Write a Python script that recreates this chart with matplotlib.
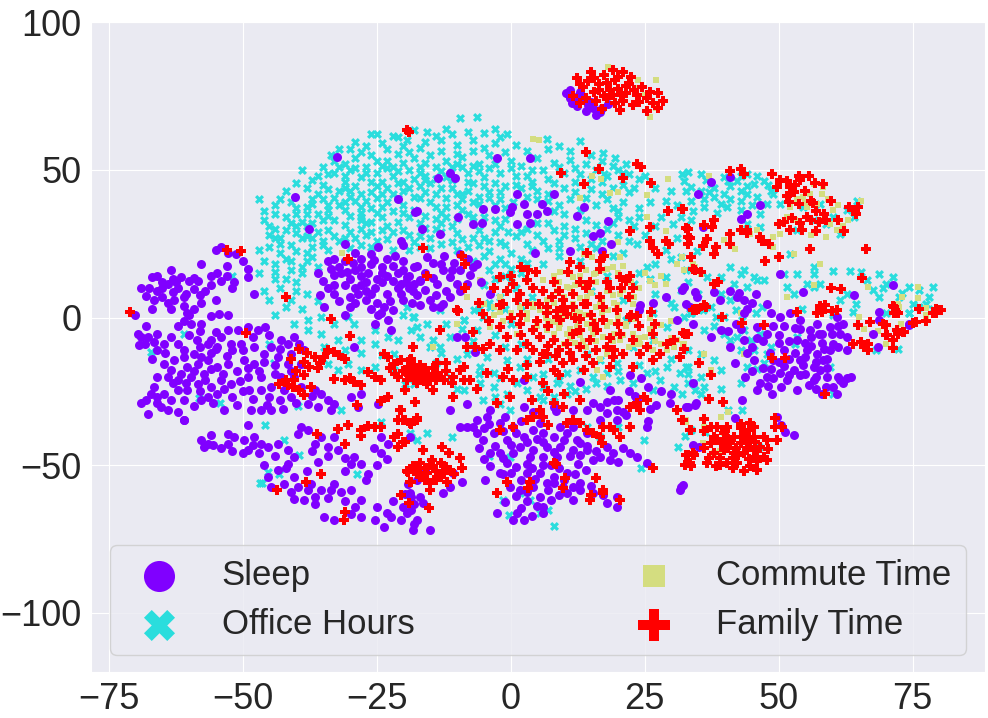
import matplotlib
matplotlib.use("Agg")
import matplotlib.pyplot as plt
import seaborn as sns
import numpy as np

sns.set_style("darkgrid")
plt.rcParams["font.family"] = ["Liberation Sans", "DejaVu Sans"]

labels = ["Sleep", "Office Hours", "Commute Time", "Family Time"]

# t-SNE coordinates (approximate)
sleep_pts = [
    # small top island
    (10.4, 76), (11, 74.5), (12, 73), (12.3, 71.5), (10.8, 75.5), (13.6, 74), (14.5, 72), (15.4, 71),
    (16.7, 69.5), (18.2, 72.3), (14, 70), (11.5, 72.5), (11, 77), (12.5, 75), (13, 76.5), (15, 73),
    (17, 71), (16, 68.5),
    # strays inside the office cloud
    (-32.4, 54.5), (-40.2, 41), (-37.6, 30), (-31, 25), (-24.8, 24), (-21, 40), (-17.5, 36), (-20.5, 26),
    (-20, 24.5), (-2.6, 54), (3.6, 54), (-13.5, 47.4), (-10.4, 47.4), (-11.4, 49), (8, 41.8), (13.6, 37.3),
    (2.4, 38.4), (5.8, 38.4), (6.7, 36), (5, 35), (3, 35), (3.6, 32), (1.1, 31.6), (0.2, 37.3), (-5.1, 36.7),
    (-3, 36.7), (-5.4, 32), (-7, 31.6), (-9.8, 33.9), (-13.2, 28.3), (-16.6, 30), (-17.8, 35.6), (12.3, 34.5),
    (18.2, 32.8), (15.4, 27.7), (16.7, 28.5), (4.5, 22), (11, 22.6), (17, 22.6), (18.8, 25), (1.1, 41.8),
    (-0.1, 35.6),
    # blob around (-27, 12)
    (-34, 19), (-35, 12.5), (-33, 8), (-29, 10), (-28, 20), (-24, 17), (-22, 12.5), (-19, 10), (-25.4, 10),
    (-18, 17), (-23.6, 3.5), (-27, 6), (-31.6, 15), (-30, 3.5), (-29, 16), (-26.7, 15), (-23, 20), (-20, 19),
    (-17, 12.5), (-20, 6), (-34.8, 3.5), (-24.8, 1), (-32, 17), (-27, 12), (-25, 13), (-21, 15), (-26, 18),
    (-23, 8), (-30, 7), (-28, 14), (-22, 17.5), (-33, 11), (-19, 14), (-25, 5), (-21, 10), (-31, 11),
    (-27, 9), (-24, 12), (-29.5, 18.5), (-22.5, 5.5), (-17.5, 7.5), (-36, 15), (-33, 14.5), (-30, 13),
    (-28.5, 8), (-26, 3), (-24, 15), (-21.5, 21), (-19.5, 12), (-18.5, 5), (-29, 22), (-26, 21.5), (-33, 20),
    (-35.5, 7.5), (-31, 1),
    # blob around (-13, 12)
    (-15.7, 20.4), (-14.5, 18.5), (-12.6, 16), (-11.3, 13.6), (-10, 11.4), (-13.8, 11.4), (-16.9, 12.6),
    (-19.4, 13.6), (-20.5, 11.5), (-11.3, 6.9), (-15, 5.8), (-13.2, 3.5), (-9.5, 16), (-8.2, 11.4),
    (-6.3, 18), (-3.9, 8), (-9.5, 21.5), (-18.2, 9.1), (-20, 16), (-12, 9), (-16, 15), (-14, 7.5),
    (-10.5, 18.5), (-17.5, 17.5), (-12.5, 21), (-7.5, 14.5), (-14.4, 3.6), (-16.9, 4.2), (-12.6, 4.7),
    (-16, 9.5), (-14.5, 13.5), (-11, 16), (-13, 18), (-9.5, 9), (-7, 17), (-5.5, 12), (-8, 20),
    # far left upper group
    (-54, 24), (-55, 23), (-52.8, 22), (-51.2, 21.5), (-57.8, 18), (-49, 16.5), (-49, 13.6), (-51.6, 12),
    (-52, 10), (-47.8, 8), (-67, 13.6), (-66, 14), (-63.4, 16), (-61.5, 13.6), (-64, 11.4), (-60, 12.5),
    (-58.4, 12.5), (-55.9, 14), (-54.7, 15), (-57, 9), (-59, 9.7), (-65, 7), (-62.8, 6), (-66.5, 6),
    (-63.4, 3), (-68, 7.4), (-57.8, 5), (-56, 0.7), (-60, 1), (-70, 1), (-63, 8.6), (-62, 10), (-65, 10),
    (-65, 12), (-62.5, 12), (-60.5, 8), (-67.5, 10), (-64, 5), (-58, 7.5), (-61, 4), (-54, 12.5), (-53, 17.5),
    (-69, 10), (-66, 9), (-63, 13), (-61, 7), (-59, 13.5), (-56, 11), (-55, 6), (-59, 3), (-53, 14),
    (-50, 19), (-67, 3),
    # left main mass
    (-69.6, -5.4), (-67.7, -6.5), (-66.5, -8.2), (-64.6, -8.8), (-68.3, -8.8), (-65.9, -5.4), (-63.4, -6.5),
    (-69.3, -9.4), (-64.6, -15.6), (-62.8, -14.5), (-60.3, -16.7), (-58.4, -15.6), (-56.5, -14.5),
    (-54.7, -16.7), (-52.8, -15.6), (-57.2, -19), (-59.7, -20.1), (-61.5, -19), (-58.4, -22.4),
    (-55.9, -23.5), (-54, -21.2), (-52.2, -22.4), (-54.7, -25.7), (-56.5, -26.9), (-60.3, -24.6),
    (-63.4, -17.8), (-59, -12.2), (-60.9, -13.5), (-57.8, -13.3), (-53.7, -19), (-67.1, -25.7),
    (-65.9, -26.9), (-64.6, -25.7), (-63.4, -28), (-65.2, -30.3), (-67.7, -32.5), (-62.1, -24.6),
    (-64, -31.4), (-60.9, -34.8), (-59.6, -2), (-57.8, -2), (-55.9, -7.7), (-54, -6.5), (-52.8, -4.3),
    (-52.2, -8.8), (-54.7, -9.9), (-56.5, -8.8), (-60.3, 1.4), (-52.8, 0.8), (-54.5, 1.2),
    (-50.9, -4.3), (-49, -3.2), (-47.2, -4.3), (-45.9, -3.2), (-50.3, -8.8), (-47.8, -9.9), (-46, -12.2),
    (-44.7, -9.9), (-43.5, -13.3), (-47.8, -15.6), (-49.7, -14.5), (-49, -20.1), (-46.6, -20.1),
    (-44.7, -23.5), (-46.6, -24.6), (-42.8, -20.1), (-42.2, -24.6), (-40.4, -20.1), (-39.1, -23.5),
    (-41, -26.9), (-42.8, -7.7), (-41.6, -8.8), (-40.4, -6.5), (-41, -12.2), (-38.5, -11), (-39.1, -15.6),
    (-41.6, -15.6), (-48.4, -31.4), (-46.6, -31.4), (-44.7, -31.4), (-48.8, -24.6),
    (-37.9, -29.1), (-36, -30.3), (-34.1, -28), (-32.9, -29.1), (-35.4, -25.7), (-33.5, -31.4), (-36.6, -24.6),
    (-29.2, -9.9), (-29.8, -26.9), (-27.9, -25.7), (-24.8, -29.1), (-28.5, -30.3), (-25.4, -2), (-22.9, -0.9),
    (-24.2, 1.4), (-22.3, -4.3),
    (-68, -3), (-66, -11), (-62, -9), (-60, -6), (-58, -10), (-56, -12), (-62, -21), (-59, -18),
    (-56, -17.5), (-53, -13), (-51, -18), (-50, -11), (-48, -6.5), (-45, -6), (-44, -16), (-44, -19),
    (-47, -18), (-45, -27), (-43, -28), (-50, -25), (-52, -27), (-58, -25), (-61, -28), (-66, -29),
    (-68, -28), (-63, -22), (-66, -20), (-55, -5), (-58, -4.5), (-61, -1),
    # lower left band
    (-57.8, -41.5), (-56.5, -42.7), (-57.2, -43.8), (-55.9, -39.9), (-52.8, -39.3), (-51.6, -40.4),
    (-49.7, -41.5), (-47.8, -40.4), (-46.6, -42.7), (-49, -44.9), (-45.3, -43.8), (-43.5, -42.7),
    (-41.6, -44.9), (-40.4, -47.2), (-39.7, -39.3), (-37.9, -38.2), (-35.4, -40.4), (-32.9, -40.4),
    (-34.1, -43.8), (-39.1, -37), (-36.6, -42.7), (-32.3, -44.9), (-41.6, -49.4), (-43.5, -51.7),
    (-29.2, -47.2), (-27.9, -49.4), (-29.8, -49.4), (-26.7, -52.8), (-24.2, -40.4), (-24.2, -46),
    (-22.9, -42.7), (-25.5, -44),
    (-54, -44), (-52, -45), (-50, -46), (-47, -46), (-44, -47), (-42, -51), (-38, -52), (-36, -49),
    (-34, -47), (-31, -47.5), (-31, -52), (-27, -55), (-25, -50), (-23, -48), (-37, -45), (-48, -43),
    (-46, -50),
    (-45.3, -54), (-44.7, -57.4), (-42.2, -56.2), (-40.4, -54), (-39.7, -57.4), (-37.9, -58.5),
    (-36.6, -60.7), (-37.2, -56.2), (-35.4, -58.5), (-38.5, -61.9), (-40.4, -61.3), (-33.5, -58.5),
    (-31.6, -59), (-29.8, -58.5), (-27.9, -61.9), (-33, -56.2), (-36.6, -63), (-41, -59), (-34, -61),
    (-31, -62), (-29, -64), (-25, -64), (-22, -62), (-20, -64), (-23, -66),
    (-34.8, -67.5), (-32.9, -68.6), (-29.8, -66.4), (-27.9, -67.5), (-25.4, -68.6), (-23.6, -70.9),
    (-22.3, -67.5), (-20.5, -68.6), (-18.6, -65.2), (-18, -69.8),
    (-19.8, -59.6), (-18.6, -60.7), (-18, -63), (-19.2, -56.2),
    (-61, -34.8), (-57.8, -28), (-53.4, -31.4), (-49, -36.5), (-52.8, -42.7), (-55.5, -43),
    # lower left of centre
    (-17.5, -54.9), (-18.8, -59.4), (-16.9, -60.6), (-19.4, -66.2), (-17.5, -68.5), (-15, -71.8),
    (-18.2, -71.8), (-12.7, -59.4), (-11.4, -57.2), (-9.1, -55.5), (-16.3, -62.9), (-16, -51.6),
    (-8.2, -36.9), (-4.8, -54.9), (-10.7, -52.7), (-18.8, -40.3),
    # central bottom blob
    (-10.1, -6.5), (-6.7, -11.6), (-8.5, -6.5), (2.4, -21.2), (8, -30.2), (12.9, -21.7), (18.5, -24.5),
    (22.3, -19.5), (24.4, -20.6), (25.7, -23.4), (23.6, -27.9), (27.2, -29.6), (29.7, -29), (32.8, -30.2),
    (34.4, -29.6), (34.1, -22.3), (34.1, -43.1), (15.4, -29), (16.7, -30.2), (17.9, -32.4), (19.8, -31.3),
    (19.2, -27.9), (14.3, -31.3), (16.7, -34.7), (19.8, -34.7), (21.6, -33), (25.4, -36.9), (25.7, -35),
    (23.2, -26.5), (22, -25), (26, -31), (28, -25), (30, -26), (20, -28), (18, -28.5), (21, -32),
    (-6.3, -34.7), (-4.5, -33.6), (-2, -35.8), (0.5, -36.9), (-3.2, -39.2), (-5.1, -41.4), (-6.3, -39.2),
    (-0.7, -41.4), (2.4, -40.3), (4.2, -38.1), (6.1, -39.2), (8, -40.3), (10.5, -39.2), (12.3, -41.4),
    (14.2, -39.2), (11.7, -36.9), (9.2, -36.9), (5.5, -35.8), (1.7, -43.7), (4.2, -44.8), (6.7, -43.7),
    (9.2, -43.7), (11.7, -44.8), (14.2, -44.8), (8.6, -47.1), (6.1, -47.1), (3.6, -47.1), (0.5, -45.9),
    (-2, -45.9), (-3.9, -45.9), (-0.7, -49.3), (-3.9, -50.4), (-2, -52.7), (3, -52.7), (5.5, -52.7),
    (8, -53.8), (10.5, -52.7), (6.7, -56.1), (4.2, -57.2), (1.7, -58.3), (-0.1, -57.2), (5.5, -60.6),
    (7.5, -61.7), (4.9, -63.9), (6.1, -66.2), (1.1, -66.2), (2.4, -68.5), (0.5, -68.5), (11.7, -57.2),
    (12.9, -58.3), (10.5, -59.4), (11.7, -61.7), (9.8, -57.2), (-2.6, -66.2), (14.2, -43.5), (16.7, -47.1),
    (18.5, -48.2), (15.4, -48.2), (17.9, -43.7), (22.3, -45.9), (23.6, -47.1), (25.4, -49.3), (17.9, -62.9),
    (19.8, -64), (17.3, -60), (19.8, -60.6), (31.6, -58.3), (32.2, -56.6), (15.4, -59.4), (-9.5, -36.9),
    (-11.3, -31.3), (-8.2, -29.2), (2.4, -30.2), (4.2, -31.9), (11.7, -31.3), (8.5, -31.5), (-3.9, -31.3),
    (3, -42), (7.5, -50), (1, -50.5), (12.5, -49.5), (-1.5, -38.5),
    (-7, -37), (-5, -37.5), (-1, -33.5), (2, -35), (6, -42), (10, -41.5), (13, -42.5), (0, -43),
    (-3, -43.5), (3, -49.5), (6, -50), (9, -51), (-1.5, -53), (2, -55), (4.5, -54.5), (7, -58.5), (9, -60),
    (3, -62), (1, -60.5), (-1, -62.5), (4, -67), (13, -46.5), (16, -45), (19, -46), (20, -49), (21, -44),
    (-5, -48), (-6, -44), (12, -53), (14, -51.5),
    # right side mass
    (24, 2.6), (26.6, 4.8), (29, 7), (32, 9.2), (34.7, 7), (33.5, 3.5), (24.1, 4.2), (32.8, 4.7), (31, -0.9),
    (34.1, -2),
    (41, 47.5), (37.3, 45.8), (34.9, 41.9), (44.1, 35), (42.9, 33.4), (46.6, 38), (35.8, 30.6), (50.3, 14.8),
    (54.6, 8.7), (64, 7.6), (71.3, 11), (68.8, 2), (74.4, -2.3), (32.4, 10.4), (34.3, 8.7), (38, 8.7),
    (42.3, 7), (43.5, 6), (42.6, 8.5), (45.7, 8.1), (47.8, 4.7), (43.5, 1.4), (44, 3), (45, 5), (41, 9),
    (39, 6),
    (48.5, 1.4), (50.3, 0.2), (52.2, 1.4), (54, -0.9), (55.9, -4.3), (57.1, -2), (59.6, -3.2), (60.8, 0.2),
    (61.4, -5.4), (62.7, -6.5), (60.2, -8.8), (57.5, -5.4), (53.4, -7.7), (55.2, -11), (57.1, -12.2),
    (54, -14.4), (56.5, -16.7), (52.8, -17.8), (50.3, -18.9), (51.5, -21.2), (47.8, -20), (46.6, -22.3),
    (48.8, -25.7), (46, -24.5), (51, -11), (47.8, -5.4), (46, -3.2), (43.5, -7.7), (45.4, -14.4), (49, -14.4),
    (57.8, -17.8), (56.5, -21.2), (58.9, -23.4), (60.2, -23.4), (61.4, -21.2), (62.7, -20.6), (60.8, -25.7),
    (53.4, -24.5), (55.6, -22.9), (54, -19.5), (50.5, -23.5), (62.7, -11), (59.6, -11), (58.3, -14.5),
    (48.3, -12), (39.2, -4.3), (41, -9.9), (41.9, -15.5), (43.8, -20), (43.2, -27.9), (40.5, -4.5),
    (37.3, -6.5), (34.6, -29), (33, -30.2), (49.7, -33.6), (51.2, -38.6), (52.8, -39.7), (50.5, -36.5),
    (61, -20), (68.8, -0.9), (74.4, -2.6), (68.5, -9.9), (67.6, -5.4), (35.1, -43.7), (41.9, -34.1),
    (31.8, -57.2), (52, -8), (55, -8.5), (58, -8.5), (50, -6), (53, -3.5),
    (45, -10), (47, -8), (49, -3), (51, -3), (54, -4), (56, -6.5), (58, -5.5), (60, -5.5), (61, -3), (62, -2),
    (53, -12), (50, -15), (52, -14), (55, -13.5), (57, -15), (59, -14), (49, -20.5), (52, -19.5), (55, -19),
    (57, -20), (59, -20), (62, -22), (58, -26), (63.5, -20), (48, -23), (45, -18), (47, -17), (44, -12),
    (43, -4), (42, -2),
]

# second pass over the densest purple areas
sleep_extra = [
    (-67, -14), (-64.5, -12), (-61, -11), (-58.5, -7.5), (-55, -10.5), (-52, -11), (-49, -17), (-46, -15),
    (-43, -10.5), (-41, -18), (-39.5, -9), (-37, -26.5), (-40, -29), (-42.5, -31), (-51, -29.5), (-59, -30),
    (-62, -32), (-69, -29), (-66.5, -23.5), (-60.5, -22), (-57, -21), (-53.5, -24), (-50.5, -21.5),
    (-48, -27.5), (-45.5, -29.5), (-55.5, -29), (-64, -20), (-69, -6.5), (-62, -3),
    (-33.5, 16.5), (-31, 19), (-28, 17), (-25.5, 19.5), (-23, 14), (-20.5, 8), (-18, 11.5), (-22, 2.5),
    (-26, 8), (-29, 5), (-32, 5.5), (-34, 10), (-28, 11), (-30.5, 15.5),
    (-4, -36), (1, -39), (5, -41), (8, -45.5), (11, -47), (4, -51), (0, -52.5), (8, -56), (3, -59), (6, -64),
    (2, -64.5), (-1.5, -47.5), (10, -55), (13, -56), (15, -57),
    (56, -9.5), (58.5, -10.5), (61, -10), (59, -17), (54.5, -16), (51, -16.5), (48.5, -17.5), (57, -24),
    (50, -8.5), (46, -7),
]

office_pts = [
    # main upper cloud
    (-25, 62), (-21, 61), (-18, 63.5), (-15.7, 63), (-12, 64), (-9.5, 67.7), (-6.3, 68), (-5, 62.6), (-0.7, 62),
    (-3, 64), (-8, 63), (-19.4, 60),
    (-32, 57), (-30, 57), (-27, 58), (-24, 59), (-20, 58), (-16, 59.5), (-13, 60), (-10, 58.5), (-7, 60),
    (-3, 59), (1, 58.5), (6.7, 60.4), (9, 58), (13, 59.8), (17.3, 55.9),
    (-35, 51), (-33, 53), (-29, 54), (-26, 55), (-23, 53), (-21, 55.5), (-18, 54), (-15, 55), (-12, 53),
    (-9, 54.5), (-6, 52), (-4, 55), (0, 53), (2, 51.5), (5, 54), (8, 52.5), (11, 53.5), (14, 52), (17, 53),
    (19.5, 54), (21.5, 52),
    (-39, 50), (-36, 48), (-33, 49), (-30, 50), (-28, 47.5), (-25, 49), (-22, 48), (-19, 50), (-16, 48),
    (-13, 49.5), (-8, 49), (-5, 47.5), (-2, 49), (1, 48), (4, 50), (7, 47), (10, 49), (13, 48.5), (16, 50),
    (18, 48), (20, 50), (22, 48.5), (24, 47),
    (-42, 43), (-38, 44), (-35, 45), (-32, 43), (-29, 44.5), (-26, 42.5), (-23, 44), (-20, 43), (-17, 44.5),
    (-14, 42), (-11, 44), (-8, 43), (-5, 44.5), (-2, 42.5), (2, 44), (5, 43), (10, 44), (15, 43.5), (19, 44),
    (22, 42.5),
    (-44, 38), (-41, 39), (-38, 37.5), (-35, 40), (-32, 38), (-29, 39.5), (-26, 37), (-23, 39), (-20, 38),
    (-15, 39), (-12, 37.5), (-9, 40), (-6, 38.5), (-2, 40), (9, 38), (11, 40), (16, 38), (21, 39), (24, 37),
    (-46, 33), (-42, 34), (-39, 32.5), (-36, 35), (-33, 33), (-30, 34.5), (-27, 32), (-24, 34), (-21, 32.5),
    (-19, 34), (-14, 33.5), (-11, 31), (-3, 33), (7, 32), (10, 31), (14, 33), (20, 34), (23, 31),
    (-45, 28), (-42, 29.5), (-39, 27), (-36, 29), (-33, 27.5), (-30, 29), (-27, 28), (-24, 29.5), (-19, 28),
    (-15, 27), (-10, 28.5), (-7, 27), (-3, 29), (1, 27.5), (5, 28), (8, 29.5), (12, 27), (20, 28),
    (-47, 23), (-43, 25), (-40, 22.5), (-37, 24), (-34, 23), (-28, 24.5), (-22, 23), (-17, 24), (-13, 25),
    (-8, 24), (-4, 22.5), (-1, 24.5), (3, 25), (7, 23.5), (13, 24), (21, 22),
    (-52, 14), (-47, 15), (-44, 18), (-41, 16), (-38, 19), (-36, 17), (-43, 10), (-45, 6), (-41, 6), (-40, 12),
    (-42, 20), (-7, 19), (-4, 16), (-1, 18), (2, 15), (-5, 11), (-2, 7), (1, 10), (-6, 3), (-8.8, -0.9),
    (-47, 40), (-45, 31), (-44, 27), (-40, 31), (-38, 31), (-37, 40), (-26, 62), (-22, 61.5),
    (-31, 46), (-27, 51), (-24, 46), (-17, 51), (-11, 46.5), (-7, 51.5), (-34, 36.5), (-28, 35.5),
    (-17, 40.5), (-13, 35.5), (-8, 35), (-25, 40.5), (-30, 41), (-20, 46), (-15, 45.5), (-10, 52),
    (-33.5, 55), (-31, 52), (-28, 56), (-25, 53), (-22, 51), (-19, 56), (-16, 52.5), (-13, 56.5),
    (-10, 55.5), (-7, 56.5), (-4, 50.5), (-1, 56), (-31, 48), (-29, 50.5), (-26, 46), (-23, 50.5),
    (-20, 52.5), (-18, 47), (-14, 47), (-11, 51), (-8, 46), (-3, 45.5), (-36, 42), (-33, 40.5), (-30, 43),
    (-27, 39.5), (-24, 42), (-21, 45.5), (-18, 41), (-16, 42.5), (-12, 40.5), (-9, 42), (-6, 41), (-3, 38),
    (-38, 35), (-35, 33), (-31, 36.5), (-28, 33), (-25, 35.5), (-22, 36), (-17, 32), (-14, 30), (-12, 34),
    (-9, 36.5), (-7, 34), (-2, 31), (-38, 27.5), (-35, 26), (-31, 27), (-28, 30), (-25, 26), (-22, 29),
    (-18, 25.5), (-16, 30.5), (-11, 25.5), (-6, 29.5), (-4, 26), (-2, 20), (-5, 21),
    (1, 45), (4, 46), (8, 45.5), (12, 46), (14, 40.5), (18, 40), (20, 36), (22, 33), (0.5, 39), (3, 41),
    (7, 39.5), (10, 35), (-0.5, 29), (3, 30), (9, 26), (15, 25), (18, 30), (22, 26), (17, 46), (21, 45),
    (23, 44), (19, 51.5), (21, 49), (17.5, 48.5),
    (-46, 36), (-44, 30), (-43, 22), (-41, 19), (-40, 35), (-39, 15), (-44, 13), (-46, 9), (-38, 8),
    (-39, 3), (-36, 5.5),
    # right part of upper cloud
    (32, 48.5), (32.8, 43), (34, 36), (24, 34), (23.6, 25), (29, 39.5), (30.3, 31.6), (34.7, 22.6), (27, 18),
    (32.8, 16), (29, 13.6), (23, 11.4), (25.4, 17), (2, 20), (6, 18), (9, 21), (13, 19), (18, 14), (24, 15),
    (27, 8), (30, 5), (-1, 14), (4, 7), (15, 9), (21, 6), (26, 13), (30, 20), (33, 12),
    # right cluster
    (33, 49.2), (35.5, 48.6), (37.3, 45.3), (39.8, 47.5), (42.3, 46.4), (44.1, 48.6), (45.4, 45.3),
    (47.2, 46.4), (49, 42), (50.3, 38.5), (47.8, 38.5), (46, 40.8), (42.9, 39.6), (40.4, 37.4), (38, 40.8),
    (35.5, 43), (33.6, 44.1), (33.6, 39.6), (36.1, 37.4), (39.2, 38.5), (42.9, 43), (39.8, 41.9), (46.6, 35),
    (46.6, 30.6), (44.1, 31.8), (48.5, 43), (31.8, 34), (33.6, 32.9), (32.4, 46.4), (41, 44.5), (44, 42),
    (37, 42.5), (36.5, 46.5), (38, 44), (40.5, 46.3), (43, 47.8), (46, 48), (48, 45), (36, 40), (41, 40),
    (45, 38), (44, 44.5), (38.5, 35.5), (43, 36.5),
    (54.6, 37.4), (57.7, 38.5), (60.2, 34), (62.7, 36.3), (64, 34), (61.4, 28.4), (58.9, 31.8), (56.5, 33),
    (53.4, 29.5), (64.6, 39.6),
    (51, 14.8), (53.4, 14.8), (56.5, 14.8), (60.2, 15.8), (63.3, 15.8), (65.4, 15.4), (68.8, 14.8),
    (71.3, 13.7), (70, 11.5), (67.6, 9.2), (68.8, 7), (66.4, 12.6), (72.5, 7), (74.4, 10.4), (76.2, 9.2),
    (78.1, 7), (78.7, 10.4), (77.5, 4.7), (75, 4.7), (61.4, 5.9), (62.7, 8.1), (64.5, 4.7), (56.5, 10.4),
    (57.7, 11.5), (55.2, 11.5), (51.5, 10.4), (52.8, 8.1), (47.2, 12.6), (45.4, 13.7), (42.9, 14.8),
    (52.2, 21.6), (56.5, 17.1), (74.4, 1.4), (60.2, 1.4), (69.5, 10), (73, 8.5),
    (31.8, 20.5), (31.8, 9.2), (34.9, 8.1), (36.7, 13.7), (39.2, 13.7), (41, 17.1), (43.5, 16), (46, 12.6),
    (41.6, 11.5), (39.2, 8.1), (41, 5.9), (44.1, 10.4), (42.3, 7), (33.6, 1.4), (39.8, 0.2), (37.3, 3.6),
    # left / middle lower
    (-60.9, -5.4), (-67.1, -11.6), (-58.1, -27.1), (-54.2, -28.9), (-44.1, -15.2), (-45, -8.8),
    (-39.7, -29.9), (-39.4, -46.6), (-45.8, -36.5), (-42.2, -41.3), (-46.8, -55.9), (-43.2, -52.8),
    (-45.3, -52.3), (-31.6, -31.4), (-39.1, -15.6), (-24.2, -35.3), (-28.6, -52.8), (-18.6, -40.4),
    (-17.4, -41.5), (-46.4, -56),
    (-40.4, -2), (-37.9, -0.9), (-35.4, 0.2), (-32.9, -2), (-32.3, -7.7), (-29.2, -2), (-27.9, -7.7),
    (-25.4, -8.8), (-22.9, -6.5), (-21, -7.7), (-18.6, -4.3), (-18, 0.2), (-20, 1), (-34.1, -15.6),
    (-30.4, -15.6), (-32.3, -17.8), (-27.9, -17.8), (-25.4, -16.7), (-21.7, -17.8), (-19.8, -22.4),
    (-18, -22.4), (-37.9, -4.3), (-35.4, -5.4), (-30.4, 0.2), (-25.4, -4.3), (-21.7, -12.2), (-34.8, -9.9),
    (-28, -12), (-24, -12.5), (-31, -11),
    # centre
    (-19.4, 3.6), (-18.2, 0.2), (-15.7, -2), (-16.9, -6.5), (-14.4, -7.7), (-13.2, -9.9), (-11.3, -6.5),
    (-8.8, -0.9), (-6.9, 2.5), (-5.1, 0.2), (-6.3, -4.3), (-3.9, 3.6), (-8.2, -12.2), (-4.5, -13.3),
    (-5.7, -16.7), (-3.2, -18.9), (-0.7, -14.4), (1.7, -16.7), (1.1, -22.3), (4.2, -20), (6.1, -23.4),
    (8.6, -22.3), (8, -26.8), (10.5, -25.7), (5.5, -26.8), (3, -24.5), (-0.7, -25.7), (-2, -29.2),
    (-0.1, -31.3), (-3.2, -23.4), (-5.7, -22.3), (-8.8, -24.5), (-5.1, -27.9), (10.5, -18.9), (12.9, -17.8),
    (15.4, -20), (17.9, -18.9), (20.4, -21.2), (22.9, -22.3), (25.4, -18.9), (27.9, -21.2), (29.2, -16.7),
    (31.6, -18.9), (32.8, -16.7), (34.1, -22.3), (30.4, -23.4), (26.6, -24.5), (14.2, -12.2), (16.7, -14.4),
    (19.8, -15.5), (22.9, -9.9), (26.6, -7.7), (29.2, -3.2), (30.4, 3.6), (33.5, 1.4), (26.6, 1.4),
    (21.6, -0.9), (-18.8, -39.2), (-15.7, -39.2), (-10.9, -40.3), (-4, -47), (-0.1, -47.1), (1.7, -59.4),
    (3.6, -61.7), (5.5, -66.2), (7, -65), (8, -70.7), (-1.4, -61.7), (-0.4, -66.8), (24.8, -41.4),
    (24.4, -51), (31.3, -43.7), (-17.5, -3.2), (-11.3, -20), (-13.2, 2.5), (14.2, -36.9), (20.1, -36.9),
    (16.7, -40.3), (-10, -14), (-14, -15.5), (2, -9), (7, -14), (12, -25), (18, -23), (-2, -20.5),
    (-15, -10), (-12, -2), (-9, -4), (-7, -8), (-3, -6), (0, -2), (-1, -10), (3, -14), (6, -19), (9, -21),
    (11, -23), (14, -24), (16, -22), (20, -18), (24, -16), (27, -18), (30, -14), (33, -19), (6, -28),
    (-3, -27), (-6, -19), (-10, -24), (-13, -12),
    # right lower
    (32.4, 0.2), (33.6, 1.4), (35.8, 2.5), (38.3, 0.2), (42, 2.5), (43.2, -0.9), (45.7, 1.4), (46.9, 3.6),
    (36.1, -4.3), (38, -3), (39.8, -5.4), (41, -7.7), (42.3, -6.5), (43.5, -4.3), (44.8, -7.7), (46.6, -5.4),
    (47.8, -12.2), (48.5, -9.9), (45.4, -11), (43, -11), (44.1, -16.7), (47.2, -15.5), (46, -17.5),
    (42.9, -22.3), (33, -22.3), (34.3, -24.5), (36.1, -23.4), (39.2, -24), (35.5, -25.7), (32, -26),
    (33, -11), (35.5, -12.2), (37.9, -14.4), (39.2, -17.8), (33, -16.7), (35.5, -20), (43.2, -31.3),
    (40.6, -31.3), (53.4, -6.5), (53, -9), (59.6, -16.7), (60.2, -25.7), (54.3, 3), (60.2, 0.8), (63.9, 1.9),
    (72.2, -10.5), (68.2, -11), (70, 1.4), (74.4, 1.4), (76.2, 3.6), (78.7, 3), (33.6, -38), (36.3, -38.6),
    (46.3, -43.7), (32.5, -40),
]

# second pass over the dense office cloud
office_extra = [
    (-29, 59.5), (-23, 57), (-17, 57.5), (-14, 61.5), (-11, 62), (-5, 57.5), (-2, 61), (3, 56.5), (7, 57),
    (11, 56.5), (15, 55),
    (-34, 48.5), (-32, 51), (-27, 49), (-24, 51.5), (-21, 49.5), (-17, 49), (-14, 51), (-12, 47.5), (-9, 51),
    (-6, 49.5), (-3, 52), (0, 50.5), (3, 48), (6, 50), (9, 51), (12, 50.5), (15, 47),
    (-40, 45.5), (-37, 46.5), (-34, 43.5), (-31, 44), (-28, 42), (-25, 44.5), (-22, 42), (-19, 44),
    (-16, 46.5), (-13, 44), (-10, 42), (-7, 45.5), (-4, 42.5), (-1, 44.5), (4, 44.5), (7, 42), (12, 42.5),
    (17, 42),
    (-43, 40), (-40, 37), (-37, 38.5), (-34, 38), (-31, 39), (-28, 37.5), (-24, 37.5), (-21, 40.5),
    (-18, 36.5), (-14, 37.5), (-10, 38), (-7, 39), (-4, 40.5), (-1, 37), (5, 40), (8, 36), (13, 36.5),
    (19, 37),
    (-44, 35), (-41, 32), (-37, 32), (-34, 34.5), (-31, 31.5), (-28, 34), (-26, 32.5), (-23, 31), (-20, 35.5),
    (-16, 34.5), (-13, 32), (-10, 33.5), (-5, 34), (-1, 33.5), (5, 32), (12, 30), (16, 31.5), (19, 32),
    (-43, 27), (-40, 28.5), (-37, 27), (-34, 29.5), (-32, 26), (-29, 27), (-26, 29), (-23, 26.5),
    (-20, 29.5), (-17, 27.5), (-13, 29), (-9, 26.5), (-5, 27), (-2, 25.5), (2, 29), (6, 26), (10, 28),
    (14, 28.5), (17, 26),
    (-45, 24), (-41, 24.5), (-38, 22), (-35, 24.5), (-30, 23.5), (-26, 24), (-19, 23), (-15, 23.5),
    (-10, 23), (-6, 24.5), (0, 22), (4, 23), (9, 23.5), (16, 23.5), (19, 21),
    (-46, 19), (-44, 15.5), (-42, 13), (-39, 17), (-37, 20.5), (-40, 9), (-42, 3.5), (-44, 1), (-3, 18),
    (0, 16.5), (3, 18.5), (-3, 13), (0, 12), (-4, 5), (-1, 3), (2, 4),
    (25, 48), (27, 44), (26, 39), (28, 34), (27, 31), (25, 28), (29, 23), (31, 27), (30, 43), (31, 38),
]

commute_pts = [
    (18.2, 85), (23.8, 80.6), (25, 75.5), (27.2, 71), (26, 68), (27.2, 80.6), (23.2, 77.8),
    (-31.5, 22), (4.2, 60.4), (5.2, 60), (15.1, 48), (16.9, 47), (12.9, 40.6), (18.5, 42.3), (20.1, 42.5),
    (25.4, 41.6), (25.4, 34), (29, 29.4), (20, 25.5), (20.4, 20.4), (13.6, 21.4), (15.1, 20.4), (19, 17),
    (17.3, 16), (15.5, 14.7), (9.2, 15.4), (11.7, 13.6), (13.6, 10.3), (10.5, 10.3), (8.6, 9.1), (6, 12.6),
    (6.7, 5.8), (4.2, 3.5), (1.7, 3.5), (11.7, 4.6), (14.3, 7), (15.9, 3.5), (12.3, 1.8), (18.2, 2.6),
    (19.2, 5), (22.9, 4.6), (20.4, 8), (26, 12.5), (29, 11.4), (31, 18), (32, 20.4), (34, 18), (-8.2, 6.9),
    (-5, 4.6), (-2, 6.9), (-3.2, 3.5), (-5.7, 12.6), (29.4, 46.8),
    (37, 48), (52.2, 41.9), (53.4, 40.2), (54.6, 40.8), (55.9, 41.9), (57.1, 38.5), (55.2, 37.4),
    (52.2, 37.4), (51.6, 34), (50.3, 28.4), (49, 27.3), (49, 23.9), (57.7, 33), (59.5, 31.8), (58.9, 27.3),
    (60.8, 29.5), (62.9, 33), (64, 36.3), (65.3, 39.6), (58.3, 44.1), (59.2, 40.2), (56.5, 45.3),
    (60.2, 36.3), (52.8, 21.6), (57.7, 18.2), (66.6, 10.4), (72.2, 4.7), (75.9, 10.4), (77.5, 3.1),
    (77.5, 0.2), (66, -3.7), (68.5, -4.5), (51.5, 7), (56.5, 11), (35.5, 14.8), (39.8, 26.2), (41.9, 23.3),
    (44.7, 28.4), (46, 29.5), (32.4, 16), (34.3, 17), (55, 39), (58, 42), (61, 38), (53, 33), (56, 28),
    (62, 31), (73, 7), (76, 6.5),
    (4.2, 4.7), (5.5, 2.5), (3, 1.4), (1.1, -5.4), (6.7, -4.3), (8, -5.4), (9.2, -2), (10.5, -5.4),
    (12.3, -3.2), (14.2, -2), (15.4, -5.4), (17.3, -6.5), (19.2, -5.4), (20.4, -7.7), (22.9, -5.4),
    (24.1, -8.8), (25.7, -9.9), (29.2, -11), (31, -7.7), (32.2, -8.8), (17.9, -12.2), (16.7, -14),
    (16.1, -17.8), (17.3, -20), (19.8, 4.2), (16.7, 4.7), (12.9, 1.4), (-10.1, -2), (-14.4, -9.9),
    (-3.9, -3.2), (-3.2, 0.8), (32.8, -34.7), (30, -7), (7, -1), (11, -7), (13.5, -8), (21.5, -3),
    (7, 2), (9, -3.5), (11, 1), (13, -6), (15, -3.5), (18, -3), (20, -1), (24, -7), (27, -8), (22, -10),
    (26, -4), (10, 7), (12, 11), (16, 12), (18, 9), (20, 15), (14, 16), (8, 14), (24, 10), (28, 14),
    (32.4, -8.8), (36.1, -12.2), (43.5, -12.2), (37.3, -17.8), (42.9, 1.4), (40.6, -31.9), (39.2, -33.6),
    (32.7, -35.2), (36.1, -36.9), (35.8, -42.6), (38, -45.9), (39, -45), (39.8, -39.2), (65, 0.2),
    (72.5, 3.6), (77.5, 0.8), (70, -8.8), (72.8, -2), (67.5, -5.5),
]

# second pass over the commute patch in the centre
commute_extra = [
    (8, -1.5), (9.5, 1), (11, -4), (12.5, -1), (14, 1), (15.5, -1), (17, 1.5), (18.5, -1.5), (20, 0.5),
    (21.5, -2), (23, -0.5), (19, -8), (21, -6), (23, -9), (25, -6.5), (26.5, -11), (28, -9), (30.5, -10),
    (10, -9), (12, -8.5), (14, -10), (16, -8), (18, -10.5), (8, 5), (10, 3), (13, 6.5), (15, 8.5), (17, 6),
    (19, 7.5), (21, 9.5), (23, 7), (11, 10), (9, 12), (13, 14), (16, 15), (18, 16.5), (21, 17.5),
    (-1.5, -1), (0, 1.5), (1.5, -2.5), (3, -0.5), (-2, 2), (5, -3), (6.5, 0), (24, 2), (26, 0), (28, -2.5),
    (30, -1), (22.5, 12), (25, 15), (27, 11),
]

family_pts = [
    # top island
    (12.3, 81), (13.5, 78), (14.5, 80), (15.5, 76.5), (16.5, 79), (17.5, 82), (18.5, 77), (19.5, 80.5),
    (20.5, 75.5), (21.5, 78.5), (22.5, 81.5), (22.9, 72), (14, 74.5), (16, 73.5), (18, 74.5), (19.5, 72.5),
    (21, 73.5), (23.5, 75.5), (24.5, 78), (25.5, 74.5), (26.5, 72.5), (27.5, 76), (28.5, 73.5), (27.5, 71),
    (25.5, 70), (20.4, 70.2), (17, 70.5), (13, 72.5), (11.7, 75), (15, 83), (19, 84), (21, 83), (23, 77),
    (17.5, 75), (20, 77.5), (13, 79), (15.5, 81), (18, 79.5), (20, 81.5), (22, 79), (24, 73), (26, 76.5),
    (19, 75.5), (16.5, 77), (21.5, 76),
    # upper cloud strays
    (-19, 63), (-53, 23), (-50.3, 22.7), (-30.4, 20), (-42, 7), (-71, 2), (-33.6, -0.5), (-19.4, 63.4),
    (14, 56), (16.5, 50.4), (9.4, 48.8), (23.5, 52), (24.3, 51), (26.2, 45.7), (20.9, 47.4), (13.7, 45.4),
    (31.9, 36.7), (29.4, 36), (22.3, 29.4), (26, 30.6), (32.7, 30.2), (33.5, 27), (29, 26), (29.5, 25),
    (26, 26), (26.6, 23.6), (27.5, 21.4), (17.4, 21), (16.7, 19), (14.3, 22), (-16.4, 23.5), (-9.1, 20.8),
    # centre upper band
    (22.3, 14.2), (20.4, 13.6), (21.5, 12.5), (20.5, 10), (22.9, 10), (22, 6.9), (11, 18.7), (12.9, 17),
    (16.7, 16.4), (14.8, 12), (12.9, 12), (10.7, 15.4), (8, 12), (6, 9), (7.7, 6.9), (9.8, 5.8), (11.7, 8),
    (13.6, 4.6), (16.7, 6.9), (18.5, 10), (-2, 13.6), (-0.7, 9), (0.5, 11.4), (1.7, 8), (3, 12.6), (4.2, 10),
    (4.8, 15.4), (3.3, 16), (1.1, 5.8), (-1.4, 4.6), (-3.2, 10), (6.7, 3.5), (8.6, 2.4), (10.5, 1.3),
    (5.2, 4.6), (-8.5, 18), (-15.7, 14), (-8.5, 10), (-5.1, 1.3), (-9.8, 2.4), (22.3, 0.1), (23.5, 0.5),
    (34, 16.4), (-10.1, 2.5), (-2, 4.2), (3, 4.7), (6.7, 1.4), (8.6, 0.2), (10, 3.6), (11.7, 3.6),
    (14.2, 4.7), (17.3, 3.6), (19.8, 2.5), (17.3, -0.9), (22.4, 0.8), (26.2, 1.9), (34.1, 2.5),
    (1.7, -2), (4.2, -4.3), (5.5, -6.5), (3, -8.8), (4.2, -11), (6.1, -12.2), (8, -7.7), (10.5, -8.8),
    (11.7, -5.4), (12.9, -9.9), (14.8, -7.7), (16.1, -4.3), (17.9, -9.9), (19.2, -11), (20.4, -5.4),
    (22.9, -7.7), (24.1, -12.2), (25.4, -9.9), (26.6, -5.4), (27.9, -12.2), (29.2, -8.8), (30.4, -7.7),
    (31.6, -13.3), (32.5, -5.4), (-2, -3.2), (-0.7, -6.5), (-3.9, -8.8), (-5.1, -10.5), (-2, -11),
    (1.1, -11), (3, -16.1), (5.5, -15), (8, -17.8), (9.8, -15.5), (11.7, -14.4), (13.6, -17.8),
    (15.4, -15.5), (18.5, -16.7), (21, -12.2), (22.9, -16.7), (26.6, -14.4), (-4.5, -18.9), (-1.4, -20),
    (0.5, -21.2), (-0.5, -17.5), (6.7, -12.2), (8.5, -13), (-8.2, -9.9), (-6.7, -9.9), (-13.2, -4.3),
    (-18.2, -9.9), (12.9, -4.3), (9.2, -0.9), (-8.8, -16.7), (2, 1), (15.5, -2), (7, -9.5), (18.5, -7),
    (0, 0), (2, -6), (5, -1), (7, -3), (9, -11), (11, -12), (14, -13), (16, -11), (19, -13.5), (13, -0.5),
    (3, -20), (6, -22), (9, -19.5), (12, 0), (15, 1), (-6, 5), (-4, -1), (-7, -5), (0, 14), (2, 17), (9, 9),
    (14, 10), (18, 12), (20, -2), (24, -3), (27, -2), (4, -28), (7, -25), (10, -26), (13, -28),
    # left of centre
    (-49.4, -5.2), (-33.5, -0.3), (-30, -6.3), (-39.4, -10.5), (-38.5, -15), (-37.6, -16.7), (-41, -13.9),
    (-36.6, -13.3), (-34.8, -13.3), (-34.1, -11), (-35.5, -15.5), (-31, -13.9), (-32.9, -20.7), (-31, -21.2),
    (-29.2, -21.8), (-27.9, -22.9), (-30, -20.5), (-43.2, -22.4), (-41.6, -22.9), (-40.4, -21.2),
    (-40.7, -23.5), (-38.5, -19.5), (-37.3, -23.5), (-38.5, -26.3), (-26.7, -18.4), (-25.4, -20.1),
    (-24.2, -21.2), (-23.6, -12.2), (-22.9, -13.5), (-21.7, -15.6), (-20.5, -14.5), (-19.2, -16.7),
    (-18, -18.4), (-17.4, -20.1), (-18.6, -13.9), (-21, -20.1), (-19.8, -24.6), (-22.9, -26.9),
    (-24.2, -28.1), (-20.5, -31.4), (-21, -34.8), (-19.8, -34.8), (-18.6, -35.9), (-17.4, -34.8),
    (-21, -39.3), (-21.7, -40.4), (-21, -43.8), (-19.8, -42.1), (-24.2, -37), (-25.4, -37), (-26.7, -36.8),
    (-27.9, -38.2), (-27.9, -40.2), (-30.4, -36.5), (-32.3, -37.6), (-31, -42.7), (-36.2, -39.5),
    (-35.4, -52.8), (-38.1, -55.7), (-43.6, -58.5), (-31, -65.8), (-31.1, -68.6), (-28.6, -29.7),
    (-33, -11.5), (-38, -12), (-36, -17), (-32, -12.5), (-40, -18), (-42, -21), (-39.5, -24.5),
    (-18.8, -18.9), (-17.5, -17.8), (-16.3, -18.9), (-15, -20), (-13.8, -18.9), (-16.9, -21.2),
    (-19.4, -21.2), (-18, -16.5), (-15.7, -22.5), (-12.4, -21.2), (-10.7, -20), (-8.8, -21.2), (-7.6, -21.2),
    (-14.4, -24.5), (-10.7, -26.8), (-6.3, -24), (-18.8, -14.4), (-13.8, -15.5), (-12, -15.5),
    (-9.5, -17.8), (-20.6, -31.3), (-20, -34.7), (-18.8, -35.8), (-17.5, -34.1), (-20, -42), (-17.8, -28.5),
    (-16.3, -44.8), (-12.9, -43.7), (-11.6, -45.7), (-9.5, -47.6), (-17, -19.5), (-14.5, -17),
    (-19, -19.5), (-18, -20.5), (-17.5, -22), (-16, -17), (-15.5, -19.5), (-14, -21), (-13, -20),
    (-12, -18), (-11, -22), (-20, -18), (-21.5, -19), (-22.5, -17), (-17, -16),
    # cluster near (-15, -52)
    (-19.2, -52.3), (-18, -51.7), (-17.4, -50.6), (-18.6, -55.7), (-20.5, -60.2), (-18.9, -62.8),
    (-19.4, -52.1), (-18.2, -50.4), (-16.9, -49.3), (-15.7, -52.7), (-14.4, -50.4), (-13.8, -53.8),
    (-12.6, -52.7), (-11.3, -51.6), (-13, -49.3), (-11.9, -55.5), (-16.9, -53.8), (-15, -56.1), (-9.1, -51),
    (-14.7, -48.2), (-18.8, -55.5), (-15, -58.3), (-15.3, -64.5), (-14, -55), (-17, -51), (-16, -51),
    (-15, -50), (-14, -52), (-13, -54), (-16, -55), (-17.5, -53), (-12, -50.5), (-10.5, -53),
    # centre lower
    (3, -34.7), (4.2, -33.6), (5.5, -31.3), (6.1, -33.6), (7, -36.4), (8, -29), (9.8, -30.2), (10.5, -35.8),
    (11.7, -34.7), (12.9, -35.8), (14.2, -38.1), (15.4, -39.2), (16.7, -40.3), (17.3, -36.9), (19.2, -38.1),
    (20.4, -40.3), (17, -42.5), (22.3, -36.9), (22.3, -30.2), (23.6, -29), (24.8, -26.8), (25.4, -27.9),
    (24.1, -31.3), (18.5, -37), (-2, -38.1), (0.5, -37), (8, -49.3), (8.5, -49.6), (-0.7, -55.5),
    (-2.6, -59.4), (3.3, -57.8), (3.6, -55.5), (9.8, -57.8), (10.1, -54.4), (16, -54.4), (14.8, -61.7),
    (17.3, -59.4), (17.3, -58.5), (20.4, -61.7), (15, -60), (26.6, -51), (31, -31.3), (32.2, -34.7),
    (33.5, -38.1), (32.8, -46.5), (34.1, -45.9), (33.5, -49.3), (32.5, -50), (-2.6, -29), (-0.1, -26.8),
    # right upper
    (41, 49.8), (42.9, 50.3), (43.5, 48.6), (48.8, 48.6), (50.3, 46.6), (51.6, 46.4), (53.7, 48.1),
    (55.6, 48.1), (56.8, 45.5), (58.3, 45.3), (49.7, 44.1), (52.2, 44.1), (52.8, 42.5), (54, 46.6),
    (51.6, 41.3), (53.7, 38.5), (56, 39.6), (56.4, 38.8), (51.9, 39), (59.8, 39.4), (63.2, 37.4),
    (64.8, 37.4), (64.1, 36.3), (64.5, 35.1), (52.5, 33.8), (55.3, 34), (56, 32.9), (57.5, 32.3),
    (58.8, 32.9), (50.9, 32.3), (50, 31.8), (52.2, 29.8), (54.3, 29.5), (56.9, 29.3), (62.1, 29.3),
    (55.9, 23.3), (66.2, 23.3), (50, 20.5), (47.5, 19.2), (44.1, 29.5), (42.9, 29.5), (46.6, 27.3),
    (46.9, 26.1), (44, 28.5), (41, 28.4), (38, 32.9), (36.1, 31.2), (37.6, 30.8), (33, 30), (36.7, 26.7),
    (35.8, 24.1), (38.3, 23.8), (38, 21.6), (33, 27.3), (33, 25), (33.6, 20.5), (32.1, 36.8), (48.2, 25),
    (41, 25), (34.4, 16.2), (35.6, 15.4), (38, 11.5), (38.7, 12), (65.5, 13.5), (59.8, 10), (61.7, 9.6),
    (58.6, 4.2), (58, 2), (60.8, 2.5), (53.4, 2), (71.3, 4), (71.9, 2), (71.5, 1.5), (79.3, 3), (80, 2.5),
    (78.7, 1.4), (76.2, 3), (36.1, 4.2), (34.3, 3), (35, 2.8), (39.5, 0.2), (43.2, -1.8), (47.2, -2.6),
    (64.8, -2.6), (67, -1.5), (69.4, -2), (75.6, -1.5), (72, -4.3), (73.2, -4.8), (70, -6), (32.1, -5.2),
    (53, 45), (55, 43), (57, 36), (54, 32), (58.5, 35), (61, 33),
    # right lower
    (34.6, 2.5), (36.5, 3.6), (33, -5.4), (32.4, -10.5), (35.2, -15.5), (37.3, -19.5), (48.8, -13.8),
    (51.2, -13.8), (47.2, -2.6), (53.4, 1.9), (57.1, 1.4), (57.8, 4), (60, 2.3), (63.9, -8.8),
    (65.4, -8.2), (66.6, -8.8), (66.6, -11), (66, -10), (70, -2.6), (70.3, -6), (71.3, -7.7), (72.2, -5.4),
    (73.4, -4.8), (71.3, -10.2), (71.6, 3.6), (72.2, 1.6), (75, -1.8), (77.5, -1.1), (79.3, 1.4),
    (80.2, 2.5), (58.6, -25.7), (37, -27.7), (39.7, -28.5), (36.1, -34.3), (32, -34.7),
    # cluster near (42, -45)
    (37.3, -36.9), (38.5, -36.9), (40.4, -36.9), (42.9, -37.5), (44.7, -35.8), (45.4, -36.9), (37.9, -40.3),
    (39.8, -39.2), (41.6, -40.3), (43.5, -39.2), (45.4, -40.3), (47.2, -40.3), (47.8, -41.4), (37.3, -42.6),
    (39.2, -42.6), (41, -42.6), (42.9, -42.6), (44.7, -43.7), (46.6, -43.7), (37.9, -45.9), (39.8, -44.8),
    (41.6, -45.9), (43.5, -45.9), (45.4, -47.1), (47.2, -47.1), (47.8, -48.2), (40.4, -49.3), (42.3, -49.3),
    (44.7, -50.4), (45.9, -51.6), (43.5, -52.1), (36.7, -49.3), (34.2, -46.5), (33, -46.5), (33, -49.3),
    (33.6, -50.4), (38.3, -50.4), (49.7, -41.4), (49.4, -37.2), (50.6, -36.9), (49.4, -34.1), (33.6, -38),
    (36, -38.5), (40.5, -41), (44, -41.5), (42, -44), (46, -45), (39, -47.5), (41.5, -47.5), (44.5, -48),
    (36, -44), (43, -36), (40, -38.5), (38.5, -41), (40.5, -44), (42.5, -46.5), (44, -44), (45.5, -42),
    (46, -48.5), (41.5, -51), (39, -50), (37, -47.5), (43, -40.5), (48, -44.5), (44.5, -38),
]

colors = plt.cm.rainbow(np.linspace(0, 1, 4))

sleep = np.array(sleep_pts + sleep_extra)
office = np.array(office_pts + office_extra)
commute = np.array(commute_pts + commute_extra)
family = np.array(family_pts)

fig = plt.figure(figsize=(9.88, 7.18), dpi=100)
ax = fig.add_axes([0.0921, 0.064, 0.9049, 0.905])

s = 42
h_office = ax.scatter(office[:, 0], office[:, 1], s=s, marker="X", color=colors[1], linewidths=0)
h_commute = ax.scatter(commute[:, 0], commute[:, 1], s=s, marker=(4, 0, 45), color=colors[2], linewidths=0)
h_sleep = ax.scatter(sleep[:, 0], sleep[:, 1], s=s, marker="o", color=colors[0], linewidths=0)
h_family = ax.scatter(family[:, 0], family[:, 1], s=s, marker="P", color=colors[3], linewidths=0)

ax.set_xlim(-78.3, 88.5)
ax.set_ylim(-120, 100)
ax.set_xticks([-75, -50, -25, 0, 25, 50, 75])
ax.set_yticks([-100, -50, 0, 50, 100])
ax.tick_params(labelsize=26)

ax.legend([h_sleep, h_office, h_commute, h_family], labels, ncol=2, loc="lower center",
          fontsize=25, markerscale=3.45, columnspacing=5.9, labelspacing=0.45)

fig.savefig("out.png", dpi=100)
